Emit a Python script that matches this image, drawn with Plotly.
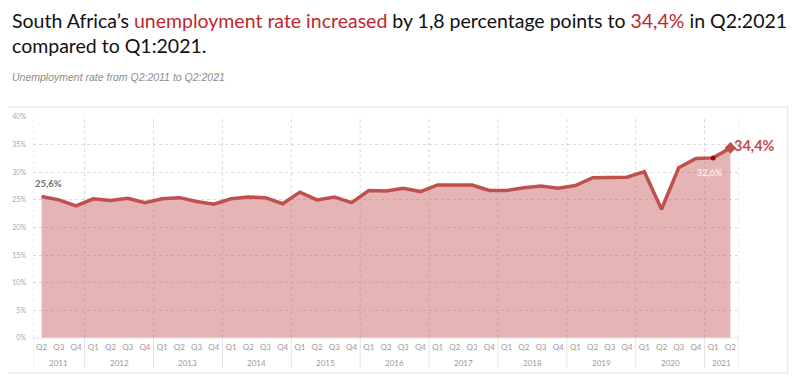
import plotly.graph_objects as go

years = ["2011"]*3 + ["2012"]*4 + ["2013"]*4 + ["2014"]*4 + ["2015"]*4 + ["2016"]*4 + \
        ["2017"]*4 + ["2018"]*4 + ["2019"]*4 + ["2020"]*4 + ["2021"]*2
quarters = ["Q2", "Q3", "Q4"] + ["Q1", "Q2", "Q3", "Q4"]*9 + ["Q1", "Q2"]
rates = [25.6, 25.0, 23.9,
         25.2, 24.9, 25.3, 24.5,
         25.2, 25.4, 24.7, 24.2,
         25.2, 25.5, 25.4, 24.3,
         26.4, 25.0, 25.5, 24.5,
         26.7, 26.6, 27.1, 26.5,
         27.7, 27.7, 27.7, 26.7,
         26.7, 27.2, 27.5, 27.1,
         27.6, 29.0, 29.1, 29.1,
         30.1, 23.3, 30.8, 32.5,
         32.6, 34.4]
y_ticks = [0, 5, 10, 15, 20, 25, 30, 35, 40]

RED = "#c0504d"
DARK_RED = "#c0272d"
n = len(rates)
idx = list(range(n))

fig = go.Figure()
fig.add_trace(go.Scatter(
    x=idx, y=rates, mode="lines",
    line=dict(color=RED, width=3.5),
    fill="tozeroy", fillcolor="rgba(198,90,90,0.45)",
    hoverinfo="skip", showlegend=False))
fig.add_trace(go.Scatter(
    x=[idx[-2]], y=[rates[-2]], mode="markers",
    marker=dict(color="#b00000", size=5), showlegend=False, hoverinfo="skip"))
fig.add_trace(go.Scatter(
    x=[idx[-1]], y=[rates[-1]], mode="markers",
    marker=dict(color=RED, size=9, symbol="diamond"), showlegend=False, hoverinfo="skip"))

def fmt(v):
    return f"{v:.1f}".replace(".", ",") + "%"

fig.add_annotation(x=idx[0], y=rates[0], text=f"<b>{fmt(rates[0])}</b>", showarrow=False,
                   xanchor="center", yanchor="bottom", yshift=6, xshift=7,
                   font=dict(size=9.5, color="#707070", family="Lato"))
fig.add_annotation(x=idx[-2], y=rates[-2], text=fmt(rates[-2]), showarrow=False,
                   xanchor="center", yanchor="top", yshift=-7, xshift=-4,
                   font=dict(size=9, color="white", family="Lato"))
fig.add_annotation(x=idx[-1], y=rates[-1], text=f"<b>{fmt(rates[-1])}</b>", showarrow=False,
                   xanchor="left", yanchor="middle", xshift=2, yshift=2,
                   font=dict(size=14.5, color=RED, family="Lato"))

# year groups: boundaries and labels
bounds = [-0.5] + [i - 0.5 for i in range(1, n) if years[i] != years[i-1]] + [n - 0.5]
for a, b in zip(bounds[:-1], bounds[1:]):
    fig.add_annotation(x=(a + b) / 2, xref="x", yref="paper", y=-0.113, yanchor="middle",
                       text=years[int(a + 0.5)], showarrow=False,
                       font=dict(size=8, color="#9a9a9a", family="Lato"))
for b in bounds:
    fig.add_shape(type="line", xref="x", yref="y", x0=b, x1=b, y0=0, y1=y_ticks[-1],
                  line=dict(color="#d9d9d9", width=1, dash="dot"), layer="below")
    fig.add_shape(type="line", xref="x", yref="paper", x0=b, x1=b, y0=0, y1=-0.14,
                  line=dict(color="#e3e3e3", width=1))
fig.add_shape(type="line", xref="x", yref="paper", x0=bounds[0], x1=bounds[-1], y0=0, y1=0,
              line=dict(color="#e3e3e3", width=1))

# chart frame
fig.add_shape(type="rect", xref="paper", yref="paper",
              x0=-0.037, x1=1.069, y0=-0.158, y1=1.045,
              line=dict(color="#e0e0e0", width=1), fillcolor="rgba(0,0,0,0)")

title = ("South Africa’s <span style='color:%s'>unemployment rate increased</span> by 1,8 percentage "
         "points to <span style='color:%s'>34,4%%</span> in Q2:2021<br>compared to Q1:2021." % (DARK_RED, DARK_RED))
fig.add_annotation(xref="paper", yref="paper", x=-0.031, y=1.493, xanchor="left", yanchor="top",
                   text=title, showarrow=False, align="left", borderpad=0,
                   font=dict(size=19.5, color="#111111", family="Lato"))
fig.add_annotation(xref="paper", yref="paper", x=-0.032, y=1.183, xanchor="left", yanchor="middle",
                   text="<i>Unemployment rate from Q2:2011 to Q2:2021</i>", showarrow=False,
                   font=dict(size=10.5, color="#8c8c8c", family="Liberation Sans"))

# page body keeps its default 8px margin, so the figure is sized to fit inside it
fig.update_layout(
    width=784, height=373,
    margin=dict(l=25, r=53, t=109, b=43),
    paper_bgcolor="white", plot_bgcolor="white",
    font=dict(family="Lato", color="#a0a0a0"),
    xaxis=dict(range=[-0.5, n - 0.5], showgrid=False, zeroline=False,
               tickvals=idx, ticktext=quarters, tickangle=0, automargin=False,
               tickfont=dict(size=8, color="#9a9a9a"), showline=False, ticks="",
               ticklabelstandoff=3),
    yaxis=dict(range=[0, 40], tickvals=y_ticks, ticktext=[f"{t}%" for t in y_ticks],
               showgrid=True, gridcolor="#dcdcdc", griddash="dot", gridwidth=1,
               zeroline=False, tickfont=dict(size=7, color="#a8a8a8"), ticks="",
               automargin=False, ticklabelstandoff=6),
)
fig.write_html("out.html")
